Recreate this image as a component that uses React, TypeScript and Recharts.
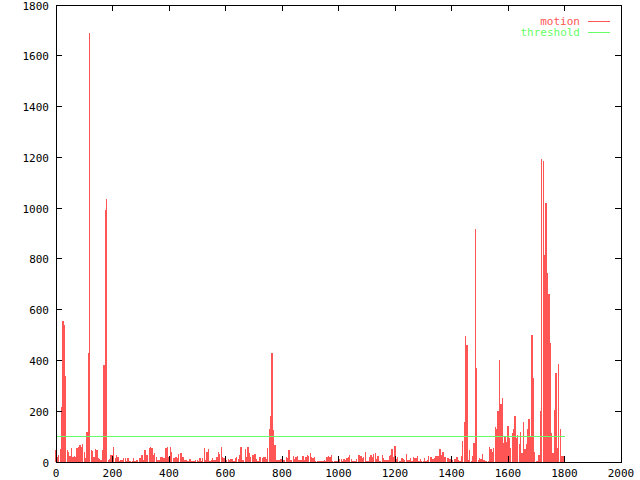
import React from 'react';
import { ComposedChart, Bar, XAxis, YAxis, ReferenceLine, ReferenceArea } from 'recharts';

// motion samples, one every 5 frames (frame 0..1800)
const sampleStep = 5;
const motion = [
  47, 20, 28, 51, 217, 555, 540, 339, 47, 40,
  24, 56, 20, 22, 20, 54, 60, 67, 60, 70,
  40, 15, 120, 430, 1690, 47, 44, 20, 50, 47,
  15, 10, 8, 47, 382, 993, 1036, 8, 10, 28,
  28, 60, 15, 28, 20, 5, 8, 8, 15, 15,
  5, 15, 5, 5, 5, 15, 5, 8, 8, 15,
  15, 28, 8, 47, 28, 28, 54, 60, 56, 28,
  34, 20, 8, 8, 20, 20, 15, 15, 54, 60,
  20, 60, 40, 15, 15, 20, 15, 30, 34, 34,
  20, 8, 8, 4, 4, 12, 5, 5, 5, 8,
  8, 4, 15, 5, 15, 56, 8, 38, 50, 5,
  8, 15, 8, 8, 20, 38, 30, 60, 20, 15,
  8, 8, 12, 8, 12, 12, 4, 15, 18, 12,
  28, 60, 8, 8, 51, 20, 58, 34, 20, 28,
  28, 30, 10, 4, 20, 18, 15, 18, 18, 12,
  54, 130, 181, 430, 126, 67, 8, 8, 8, 12,
  10, 8, 8, 20, 15, 47, 8, 8, 22, 10,
  20, 25, 8, 8, 8, 22, 8, 18, 28, 25,
  34, 20, 15, 20, 5, 5, 5, 5, 5, 5,
  8, 5, 20, 24, 18, 28, 5, 5, 5, 5,
  12, 12, 12, 5, 12, 8, 15, 20, 28, 10,
  5, 5, 5, 10, 28, 28, 24, 15, 20, 40,
  5, 5, 20, 28, 20, 30, 34, 10, 24, 5,
  5, 28, 15, 8, 8, 8, 24, 28, 51, 18,
  63, 10, 20, 5, 5, 15, 10, 8, 30, 8,
  8, 17, 5, 20, 15, 15, 24, 5, 12, 5,
  5, 17, 5, 8, 24, 18, 18, 12, 17, 24,
  24, 24, 52, 28, 40, 21, 21, 14, 14, 12,
  12, 8, 12, 12, 20, 8, 5, 24, 84, 157,
  496, 461, 8, 47, 5, 24, 75, 918, 370, 8,
  15, 10, 30, 8, 5, 5, 5, 60, 50, 40,
  57, 139, 130, 201, 402, 228, 252, 75, 100, 80,
  142, 93, 55, 116, 130, 181, 93, 107, 70, 118,
  35, 159, 50, 70, 130, 169, 100, 500, 331, 40,
  3, 3, 28, 200, 1194, 1186, 816, 1020, 745, 662,
  470, 114, 35, 205, 351, 55, 386, 130, 23, 23, 20,
];

const thresholdValue = 100;
const thresholdRange = [0, 1800];

const xTicks = [0, 200, 400, 600, 800, 1000, 1200, 1400, 1600, 1800, 2000];
const yTicks = [0, 200, 400, 600, 800, 1000, 1200, 1400, 1600, 1800];

const data = motion.map((v, i) => ({ frame: i * sampleStep, motion: v }));

const MOTION_COLOR = '#ff5555';
const THRESHOLD_COLOR = '#66ff66';
const FONT = '"DejaVu Sans Mono", monospace';

const W = 640;
const H = 480;
const margin = { top: 5, right: 19, left: 0, bottom: 0 };
const plotTop = margin.top;
const plotRight = W - margin.right;

// gnuplot style: ticks point inwards and are mirrored on top / right
const XTick = ({ x, y, payload }: any) => (
  <g>
    <line x1={x} x2={x} y1={y} y2={y - 6} stroke="#000" />
    <line x1={x} x2={x} y1={plotTop} y2={plotTop + 6} stroke="#000" />
    <text x={x} y={y + 15} textAnchor="middle" fontSize={11} fontFamily={FONT} fill="#000">
      {payload.value}
    </text>
  </g>
);

const YTick = ({ x, y, payload }: any) => (
  <g>
    <line x1={x} x2={x + 6} y1={y} y2={y} stroke="#000" />
    <line x1={plotRight - 6} x2={plotRight} y1={y} y2={y} stroke="#000" />
    <text x={x - 7} y={y + 4.5} textAnchor="end" fontSize={11} fontFamily={FONT} fill="#000">
      {payload.value}
    </text>
  </g>
);

const keyRows = [
  { name: 'motion', color: MOTION_COLOR },
  { name: 'threshold', color: THRESHOLD_COLOR },
];

export default function App() {
  return (
    <div style={{ position: 'absolute', left: 0, top: 0, width: W, height: H, background: '#fff', shapeRendering: 'crispEdges' }}>
      <ComposedChart width={W} height={H} data={data} margin={margin}>
        <XAxis
          dataKey="frame"
          type="number"
          domain={[0, 2000]}
          ticks={xTicks}
          height={18}
          stroke="#000"
          tickLine={false}
          tickSize={0}
          tickMargin={0}
          tick={<XTick />}
          interval={0}
        />
        <YAxis
          type="number"
          domain={[0, 1800]}
          ticks={yTicks}
          width={56}
          stroke="#000"
          tickLine={false}
          tickSize={0}
          tickMargin={0}
          tick={<YTick />}
          interval={0}
        />
        <Bar dataKey="motion" fill={MOTION_COLOR} barSize={2} isAnimationActive={false} />
        <ReferenceLine
          segment={[
            { x: thresholdRange[0], y: thresholdValue },
            { x: thresholdRange[1], y: thresholdValue },
          ]}
          stroke={THRESHOLD_COLOR}
          strokeWidth={1}
        />
        <ReferenceArea x1={0} x2={2000} y1={0} y2={1800} fill="none" stroke="#000" strokeWidth={1} fillOpacity={0} />
      </ComposedChart>
      <div style={{ position: 'absolute', left: 500, top: 16, fontFamily: FONT, fontSize: 11 }}>
        {keyRows.map((r) => (
          <div key={r.name} style={{ display: 'flex', alignItems: 'center', height: 11, lineHeight: '11px' }}>
            <span style={{ width: 80, textAlign: 'right', color: r.color }}>{r.name}</span>
            <span style={{ width: 22, height: 1, background: r.color, marginLeft: 8 }} />
          </div>
        ))}
      </div>
    </div>
  );
}
